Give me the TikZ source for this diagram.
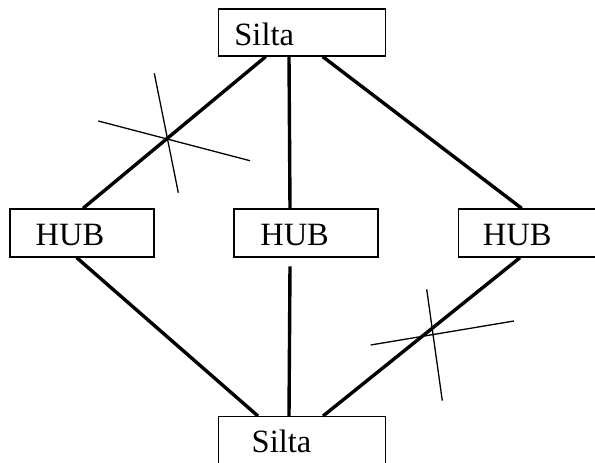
\documentclass[tikz,border=0pt]{standalone}
\usepackage{fontspec}
\setmainfont{Liberation Serif}
\usetikzlibrary{calc}
\begin{document}
\begin{tikzpicture}[x=1pt,y=-1pt,
  box/.style={draw, line width=1.3pt, inner sep=0pt},
  lbl/.style={inner sep=0pt, anchor=base west, font=\fontsize{32.5}{32.5}\selectfont},
  conn/.style={line width=3.4pt},
  strike/.style={line width=1.3pt}]
\useasboundingbox (0,0) rectangle (595,463);
% boxes
\node[box, minimum width=167.4pt, minimum height=47pt] (top) at (302,32.5) {};
\node[box, minimum width=144pt, minimum height=48pt] (hubl) at (82,233) {};
\node[box, minimum width=144pt, minimum height=48pt] (hubm) at (306,233) {};
\node[box, minimum width=144pt, minimum height=48pt] (hubr) at (530.3,233) {};
\node[box, minimum width=167.4pt, minimum height=48pt] (bot) at (302,440.7) {};
% labels
\node[lbl] (ttop) at (234.2,45.3) {Silta};
\node[lbl] (tl) at (35.4,245) {HUB};
\node[lbl] (tm) at (260.1,245) {HUB};
\node[lbl] (tr) at (482.7,245) {HUB};
\node[lbl] (tbot) at (251.5,452.4) {Silta};
% connectors
\draw[conn] ($(top.south)+(-36.3,0)$) -- ($(hubl.north)+(1,0)$);
\draw[conn] ($(top.south)+(-13,0)$) -- ($(hubm.north)+(-16,0)$);
\draw[conn] ($(top.south)+(20.7,0)$) -- ($(hubr.north)+(-8.6,0)$);
\draw[conn] ($(hubl.south)+(-5.3,0)$) -- ($(bot.north)+(-44,0)$);
\draw[conn] ($(hubm.south)+(-16,8.7)$) -- ($(bot.north)+(-13,0)$);
\draw[conn] ($(hubr.south)+(-10.3,0)$) -- ($(bot.north)+(21,0)$);
% cross marks
\coordinate (la1) at (154.3,73.3);
\coordinate (la2) at (178.3,192.7);
\coordinate (lb1) at (98.3,121);
\coordinate (lb2) at (250,160.7);
\coordinate (ra1) at (426.7,289.3);
\coordinate (ra2) at (442.3,400.7);
\coordinate (rb1) at (370.7,345);
\coordinate (rb2) at (514,321);
\draw[strike] (la1) -- (la2);
\draw[strike] (lb1) -- (lb2);
\draw[strike] (ra1) -- (ra2);
\draw[strike] (rb1) -- (rb2);
\end{tikzpicture}
\end{document}
